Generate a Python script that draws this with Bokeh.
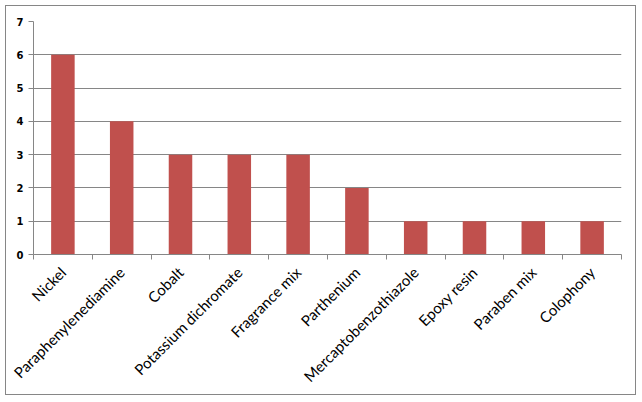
import math
import numpy as np
from bokeh.plotting import figure
from bokeh.models import Range1d, FixedTicker, ColumnDataSource
from bokeh.embed import file_html
from bokeh.resources import INLINE

categories = ["Nickel", "Paraphenylenediamine", "Cobalt", "Potassium dichromate",
              "Fragrance mix", "Parthenium", "Mercaptobenzothiazole", "Epoxy resin",
              "Paraben mix", "Colophony"]
values = [6, 4, 3, 3, 3, 2, 1, 1, 1, 1]
y_ticks = [0, 1, 2, 3, 4, 5, 6, 7]

centers = [i + 0.5 for i in range(len(categories))]
bounds = list(range(len(categories) + 1))

src = ColumnDataSource(dict(x=centers, top=values, name=categories))

p = figure(width=631, height=390, output_backend="svg", toolbar_location=None,
           x_range=Range1d(0, len(categories)), y_range=Range1d(0, 7),
           min_border_left=27, min_border_right=16, min_border_top=15, min_border_bottom=142,
           styles={"border": "1px solid #868686", "margin-left": "5px", "margin-top": "5px",
                   "box-sizing": "border-box"})
p.outline_line_color = None
p.background_fill_color = "white"
p.border_fill_color = "white"

p.vbar(x="x", top="top", width=0.4, source=src, fill_color="#C0504D", line_color=None)

# y axis
p.yaxis.ticker = FixedTicker(ticks=y_ticks)
p.yaxis.axis_line_color = "#868686"
p.yaxis.major_tick_line_color = "#868686"
p.yaxis.major_tick_out = 5
p.yaxis.major_tick_in = 0
p.yaxis.minor_tick_line_color = None
p.yaxis.major_label_text_font = "DejaVu Sans"
p.yaxis.major_label_text_font_style = "bold"
p.yaxis.major_label_text_font_size = "10px"
p.yaxis.major_label_text_color = "black"
p.yaxis.major_label_standoff = 5

# x axis
p.xaxis.ticker = FixedTicker(ticks=centers, minor_ticks=bounds)
p.xaxis.major_label_overrides = {c: n for c, n in zip(centers, categories)}
p.xaxis.axis_line_color = "#868686"
p.xaxis.major_tick_line_color = None
p.xaxis.minor_tick_line_color = "#868686"
p.xaxis.minor_tick_out = 5
p.xaxis.minor_tick_in = 0
p.xaxis.major_label_orientation = math.pi / 4
p.xaxis.major_label_text_font = "Lato"
p.xaxis.major_label_text_font_size = "15px"
p.xaxis.major_label_text_color = "black"
p.xaxis.major_label_standoff = 9

p.xgrid.grid_line_color = None
p.ygrid.ticker = FixedTicker(ticks=y_ticks)
p.ygrid.grid_line_color = "#868686"

open("out.html", "w").write(file_html(p, INLINE))
